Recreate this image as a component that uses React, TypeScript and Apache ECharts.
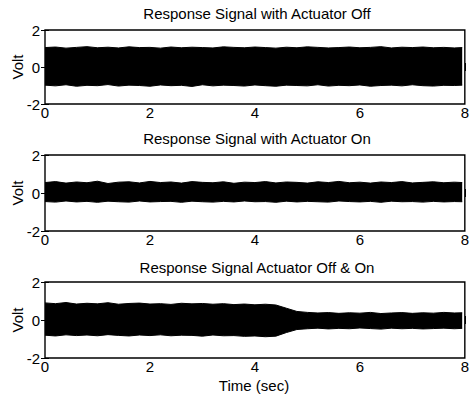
import React, { useEffect, useRef } from "react";
import * as echarts from "echarts";

const titles = [
  "Response Signal with Actuator Off",
  "Response Signal with Actuator On",
  "Response Signal Actuator Off & On",
];
const xLabel = "Time (sec)";
const yLabel = "Volt";
const xTicks = [0, 2, 4, 6, 8];
const yTicks = [-2, 0, 2];

const times = [
  0, 0.2, 0.4, 0.6, 0.8, 1.0, 1.2, 1.4, 1.6, 1.8, 2.0, 2.2, 2.4, 2.6, 2.8, 3.0,
  3.2, 3.4, 3.6, 3.8, 4.0, 4.2, 4.4, 4.6, 4.8, 5.0, 5.2, 5.4, 5.6, 5.8, 6.0,
  6.2, 6.4, 6.6, 6.8, 7.0, 7.2, 7.4, 7.6, 7.8, 7.95,
];

// Signal envelopes (upper / lower peaks)
const offUpper = [
  1.05, 1.08, 1.02, 1.06, 1.1, 1.04, 1.07, 1.03, 1.09, 1.05, 1.06, 1.02, 1.08,
  1.04, 1.07, 1.05, 1.03, 1.09, 1.06, 1.04, 1.08, 1.05, 1.02, 1.07, 1.04, 1.09,
  1.06, 1.03, 1.05, 1.08, 1.04, 1.06, 1.1, 1.03, 1.07, 1.05, 1.08, 1.04, 1.06,
  1.03, 1.05,
];
const offLower = [
  -0.98, -1.02, -0.96, -1.04, -0.99, -1.01, -0.95, -1.03, -0.98, -1.0, -1.04,
  -0.97, -1.01, -0.99, -1.05, -0.96, -1.02, -0.98, -1.0, -1.03, -0.97, -1.01,
  -1.04, -0.98, -1.0, -1.02, -0.96, -1.03, -0.99, -1.01, -0.97, -1.04, -1.0,
  -0.98, -1.02, -0.96, -1.01, -1.03, -0.99, -1.0, -0.98,
];
const onUpper = [
  0.55, 0.6, 0.52, 0.58, 0.54, 0.62, 0.5, 0.57, 0.59, 0.53, 0.61, 0.55, 0.58,
  0.52, 0.6, 0.56, 0.54, 0.59, 0.51, 0.57, 0.55, 0.6, 0.53, 0.58, 0.56, 0.52,
  0.59, 0.55, 0.61, 0.54, 0.57, 0.52, 0.58, 0.55, 0.6, 0.53, 0.56, 0.59, 0.54,
  0.57, 0.55,
];
const onLower = [
  -0.45, -0.48, -0.42, -0.47, -0.44, -0.49, -0.43, -0.46, -0.48, -0.42, -0.47,
  -0.45, -0.44, -0.49, -0.43, -0.46, -0.48, -0.44, -0.47, -0.42, -0.46, -0.45,
  -0.49, -0.43, -0.47, -0.44, -0.46, -0.48, -0.42, -0.45, -0.47, -0.44, -0.49,
  -0.43, -0.46, -0.45, -0.48, -0.44, -0.47, -0.45, -0.46,
];
const offOnUpper = [
  0.9, 0.86, 0.92, 0.84, 0.88, 0.85, 0.91, 0.83, 0.87, 0.89, 0.84, 0.86, 0.82,
  0.88, 0.85, 0.87, 0.83, 0.86, 0.81, 0.84, 0.8, 0.83, 0.79, 0.62, 0.45, 0.4,
  0.37, 0.39, 0.35, 0.38, 0.36, 0.4, 0.34, 0.37, 0.39, 0.35, 0.38, 0.36, 0.4,
  0.37, 0.38,
];
const offOnLower = [
  -0.8, -0.84, -0.78, -0.82, -0.79, -0.83, -0.77, -0.81, -0.84, -0.79, -0.82,
  -0.78, -0.83, -0.8, -0.81, -0.85, -0.79, -0.83, -0.82, -0.86, -0.84, -0.88,
  -0.85, -0.66, -0.5, -0.46, -0.43, -0.47, -0.44, -0.46, -0.42, -0.45, -0.48,
  -0.43, -0.46, -0.44, -0.47, -0.45, -0.43, -0.46, -0.44,
];

const envelopes = [
  [offUpper, offLower],
  [onUpper, onLower],
  [offOnUpper, offOnLower],
];

const FONT = "'Liberation Sans', Arial, Helvetica, sans-serif";
const gridTops = [30, 155, 282];
const gridHeights = [74, 76, 76];
const titleY = [13, 138.5, 267];
const voltY = [67, 193, 320];

export default function App() {
  const ref = useRef<HTMLDivElement>(null);

  useEffect(() => {
    if (!ref.current) return;
    const chart = echarts.init(ref.current, null, { renderer: "svg" });

    const grid: any[] = [];
    const xAxis: any[] = [];
    const yAxis: any[] = [];
    const series: any[] = [];
    const graphic: any[] = [];

    for (let i = 0; i < 3; i++) {
      grid.push({
        left: 45,
        right: 3,
        top: gridTops[i],
        height: gridHeights[i],
        show: true,
        borderColor: "#000",
        borderWidth: 1.4,
        backgroundColor: "#fff",
      });
      const xMin = xTicks[0];
      const xMax = xTicks[xTicks.length - 1];
      xAxis.push({
        type: "value",
        gridIndex: i,
        position: "bottom",
        min: xMin,
        max: xMax,
        interval: 2,
        axisLine: { show: false },
        axisTick: { show: true, inside: true, length: 4, lineStyle: { color: "#000" } },
        axisLabel: { color: "#000", fontSize: 15, fontFamily: FONT, margin: 1 },
        splitLine: { show: false },
      });
      xAxis.push({
        type: "value",
        gridIndex: i,
        position: "top",
        min: xMin,
        max: xMax,
        interval: 2,
        axisLine: { show: false },
        axisTick: { show: true, inside: true, length: 4, lineStyle: { color: "#000" } },
        axisLabel: { show: false },
        splitLine: { show: false },
      });
      yAxis.push({
        type: "value",
        gridIndex: i,
        position: "left",
        min: yTicks[0],
        max: yTicks[yTicks.length - 1],
        interval: 2,
        axisLine: { show: false },
        axisTick: { show: true, inside: true, length: 4, lineStyle: { color: "#000" } },
        axisLabel: { color: "#000", fontSize: 15, fontFamily: FONT, margin: 5 },
        splitLine: { show: false },
      });
      yAxis.push({
        type: "value",
        gridIndex: i,
        position: "right",
        min: yTicks[0],
        max: yTicks[yTicks.length - 1],
        interval: 2,
        axisLine: { show: false },
        axisTick: { show: true, inside: true, length: 4, lineStyle: { color: "#000" } },
        axisLabel: { show: false },
        splitLine: { show: false },
      });

      const [up, lo] = envelopes[i];
      [up, lo].forEach((vals) => {
        series.push({
          type: "line",
          xAxisIndex: 2 * i,
          yAxisIndex: 2 * i,
          data: times.map((t, k) => [t, vals[k]]),
          symbol: "none",
          lineStyle: { color: "#000", width: 1 },
          areaStyle: { color: "#000", opacity: 1 },
          silent: true,
        });
      });

      graphic.push({
        type: "text",
        x: 257,
        y: titleY[i],
        style: {
          text: titles[i],
          fill: "#000",
          font: `15px ${FONT}`,
          textAlign: "center",
          textVerticalAlign: "middle",
        },
      });
      graphic.push({
        type: "text",
        x: 17,
        y: voltY[i],
        rotation: Math.PI / 2,
        style: {
          text: yLabel,
          fill: "#000",
          font: `15px ${FONT}`,
          textAlign: "center",
          textVerticalAlign: "middle",
        },
      });
    }

    graphic.push({
      type: "text",
      x: 254,
      y: 385,
      style: {
        text: xLabel,
        fill: "#000",
        font: `15px ${FONT}`,
        textAlign: "center",
        textVerticalAlign: "middle",
      },
    });

    chart.setOption({
      animation: false,
      backgroundColor: "#fff",
      grid,
      xAxis,
      yAxis,
      series,
      graphic,
    });

    return () => chart.dispose();
  }, []);

  return (
    <div
      ref={ref}
      style={{ position: "fixed", left: 0, top: 0, width: 472, height: 403 }}
    />
  );
}
